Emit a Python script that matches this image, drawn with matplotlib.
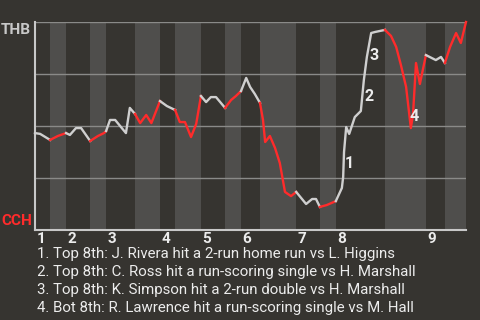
import matplotlib.pyplot as plt

plt.rcParams["font.family"] = ["Roboto", "DejaVu Sans"]

# game progress (% of game) and THB win probability (%)
progress = [
    0.0, 1.2, 3.5, 5.3, 7.2, 8.1, 9.5, 10.7, 12.8, 14.6,
    16.0, 16.5, 17.4, 18.6, 21.1, 22.0, 23.2, 24.4, 25.8, 27.0,
    29.0, 30.6, 32.5, 33.6, 34.8, 36.2, 37.4, 38.5, 39.7, 40.8,
    42.0, 44.1, 45.5, 46.6, 47.8, 49.0, 49.9, 51.0, 52.2, 52.9,
    53.4, 54.5, 55.7, 56.8, 58.0, 59.4, 60.6, 62.9, 64.3, 65.2,
    66.1, 67.7, 69.8, 71.2, 71.5, 71.7, 72.2, 72.9, 74.2, 75.6,
    76.3, 77.0, 78.0, 78.9, 81.2, 82.6, 83.8, 84.9, 86.1, 86.8,
    87.2, 87.7, 88.4, 89.3, 90.7, 93.0, 94.2, 95.1, 96.3, 97.7,
    98.8, 100.0,
]
thb_wp = [
    46.6, 46.2, 43.3, 45.2, 46.6, 45.7, 49.0, 49.0, 42.8, 45.2,
    46.6, 47.6, 52.9, 52.9, 46.6, 58.7, 55.8, 51.4, 55.3, 51.4,
    62.0, 59.6, 57.7, 51.9, 51.9, 44.7, 51.0, 64.4, 61.5, 63.9,
    63.9, 58.7, 62.5, 64.4, 66.8, 73.1, 68.8, 65.4, 61.1, 52.9,
    42.3, 45.2, 39.4, 32.2, 18.3, 16.3, 18.3, 12.5, 14.9, 14.9,
    11.1, 12.0, 13.9, 20.2, 25.5, 37.5, 49.5, 46.2, 54.3, 57.2,
    72.1, 83.2, 94.7, 95.2, 96.2, 93.3, 88.0, 79.3, 68.8, 56.3,
    49.0, 55.3, 80.3, 70.2, 84.1, 81.7, 83.2, 80.3, 88.0, 94.7,
    89.9, 100.0,
]

# where each half inning starts (top 1, bot 1, top 2, ...), last value = end
half_starts = [0.0, 3.5, 7.2, 12.8, 16.5, 23.2, 29.0, 32.5, 38.5, 44.1,
               47.8, 52.2, 60.6, 66.1, 69.8, 81.2, 90.7, 95.1, 100.0]
innings = ["1", "2", "3", "4", "5", "6", "7", "8", "9"]

event_labels = ["1", "2", "3", "4"]
event_x = [72.9, 77.6, 78.7, 88.0]
event_y = [32.1, 64.1, 84.1, 54.5]
event_text = [
    "1. Top 8th: J. Rivera hit a 2-run home run vs L. Higgins",
    "2. Top 8th: C. Ross hit a run-scoring single vs H. Marshall",
    "3. Top 8th: K. Simpson hit a 2-run double vs H. Marshall",
    "4. Bot 8th: R. Lawrence hit a run-scoring single vs M. Hall",
]

BG = "#363430"
BAND = "#4f4e4c"
GRID = "#8a8a88"
AXIS = "#c8c8c8"
TOP_COLOR = "#cfcfcf"
BOT_COLOR = "#ff2b2b"
TEXT = "#ececec"

fig = plt.figure(figsize=(4.8, 3.2), dpi=100, facecolor=BG)
ax = fig.add_axes([35 / 480, 90 / 320, 431 / 480, 208 / 320])
ax.set_facecolor(BG)
ax.set_xlim(0, 100)
ax.set_ylim(0, 100)

# half-inning bands
for i in range(len(half_starts) - 1):
    if i % 2 == 1:
        ax.axvspan(half_starts[i], half_starts[i + 1], color=BAND, lw=0, zorder=0)

for g in [25, 50, 75, 100]:
    ax.axhline(g, color=GRID, lw=1.0, zorder=1)

for side in ["top", "right"]:
    ax.spines[side].set_visible(False)
for side in ["left", "bottom"]:
    ax.spines[side].set_color(AXIS)
    ax.spines[side].set_linewidth(1.5)
ax.set_xticks([])
ax.set_yticks([])

# win probability line, coloured by half inning
for i in range(len(half_starts) - 1):
    lo, hi = half_starts[i], half_starts[i + 1]
    xs = [x for x in progress if lo <= x <= hi]
    ys = [y for x, y in zip(progress, thb_wp) if lo <= x <= hi]
    ax.plot(xs, ys, color=BOT_COLOR if i % 2 else TOP_COLOR, lw=1.7,
            solid_joinstyle="round", clip_on=False, zorder=3)

ax.text(-0.009, 0.995, "THB", transform=ax.transAxes, ha="right", va="top",
        fontsize=11, fontweight="bold", color=AXIS)
ax.text(-0.007, 0.024, "CCH", transform=ax.transAxes, ha="right", va="baseline",
        fontsize=11, fontweight="bold", color=BOT_COLOR)

for k, inn in enumerate(innings):
    ax.annotate(inn, (half_starts[2 * k], 0), xycoords=("data", "axes fraction"),
                xytext=(1.2, -1.2), textcoords="offset points", ha="left", va="top",
                fontsize=11, fontweight="bold", color=TEXT)

for lab, x, y in zip(event_labels, event_x, event_y):
    ax.text(x, y, lab, ha="center", va="center", fontsize=11.5,
            fontweight="bold", color=TEXT, zorder=4)

for j, line in enumerate(event_text):
    fig.text(37 / 480, 1 - (258 + 18 * j) / 320, line, ha="left", va="baseline",
             fontsize=10.8, color=TEXT)

fig.savefig("out.png", dpi=100, facecolor=BG)
